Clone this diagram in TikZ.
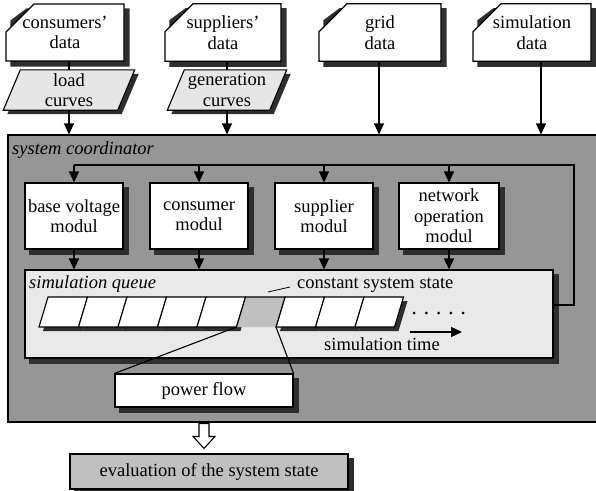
\documentclass[tikz,border=0pt]{standalone}
\usepackage{fontspec}
\setmainfont{Liberation Serif}
\usetikzlibrary{arrows.meta,shapes.misc,calc}
\definecolor{shadowc}{HTML}{2E2E2E}
\definecolor{coordc}{HTML}{969696}
\definecolor{queuec}{HTML}{E9E9E9}
\definecolor{parac}{HTML}{E6E6E6}
\definecolor{cellg}{HTML}{C0C0C0}
\definecolor{evalc}{HTML}{C0C0C0}
\pgfdeclarelayer{back}
\pgfdeclarelayer{shad}
\pgfsetlayers{back,shad,main}
\newcommand\dfont{\fontsize{18.5}{20.5}\selectfont}
\tikzset{
 lw/.style={line width=1.1pt},
 docbox/.style={chamfered rectangle, chamfered rectangle corners=north west,
   chamfered rectangle xsep=16pt, chamfered rectangle ysep=12pt,
   draw, lw, fill=white, minimum height=49pt, inner sep=0pt, align=center, font=\dfont},
 modbox/.style={rectangle, draw, lw, fill=white, minimum height=66pt,
   minimum width=98pt, inner sep=0pt, align=center, font=\dfont},
 plainbox/.style={rectangle, draw, lw, inner sep=0pt, align=center, font=\dfont},
 arr/.style={lw, -{Triangle[width=10pt,length=11pt]}},
 paratext/.style={inner sep=0pt, minimum height=40pt, align=center, font=\dfont},
 itlabel/.style={inner sep=0pt, anchor=west, font=\dfont\itshape},
}
\newcommand\rshadow[1]{\begin{pgfonlayer}{shad}\path[fill=shadowc] ([xshift=5pt,yshift=-5pt]#1.south west) rectangle ([xshift=5pt,yshift=-5pt]#1.north east);\end{pgfonlayer}}
\newcommand\cshadow[1]{\begin{pgfonlayer}{shad}\path (#1.west |- #1.north) coordinate (tmptl) (#1.west |- #1.south) coordinate (tmpbl) (#1.east |- #1.south) coordinate (tmpbr) (#1.east |- #1.north) coordinate (tmptr);
 \path[fill=shadowc] ([xshift=5pt,yshift=-5pt]tmpbl) -- ([xshift=5pt,yshift=-5pt]tmpbr) -- ([xshift=5pt,yshift=-5pt]tmptr) -- ([xshift=21pt,yshift=-5pt]tmptl) -- ([xshift=5pt,yshift=-17pt]tmptl) -- cycle;\end{pgfonlayer}}
\newcommand\drawpara[2]{%
 \path[fill=shadowc] ([xshift=-#2/2+4,yshift=-4pt]#1.south west) -- ([xshift=-#2/2+4,yshift=-4pt]#1.south east) -- ([xshift=#2/2+4,yshift=-4pt]#1.north east) -- ([xshift=#2/2+4,yshift=-4pt]#1.north west) -- cycle;
 \draw[lw,fill=parac] ([xshift=-#2/2]#1.south west) -- ([xshift=-#2/2]#1.south east) -- ([xshift=#2/2]#1.north east) -- ([xshift=#2/2]#1.north west) -- cycle;}
\begin{document}
\begin{tikzpicture}[x=1pt,y=-1pt]
\useasboundingbox (0,0) rectangle (596,490);
% system coordinator background
\begin{pgfonlayer}{back}
\node[draw, lw, fill=coordc, minimum width=592pt, minimum height=287pt, inner sep=0pt] (sc) at (304,278.5) {};
\end{pgfonlayer}
\node[itlabel] (scl) at (12,150) {system coordinator};
% top data boxes
\node[docbox, minimum width=118pt] (cd) at (65,32.5) {consumers'\\data};
\node[docbox, minimum width=116pt] (sd) at (223,32.5) {suppliers'\\data};
\node[docbox, minimum width=122pt] (gd) at (380,32.5) {grid\\data};
\node[docbox, minimum width=118pt] (smd) at (532,32.5) {simulation\\data};
\cshadow{cd}\cshadow{sd}\cshadow{gd}\cshadow{smd}
% parallelograms
\node[paratext, minimum width=114pt] (lc) at (69,90) {};
\node[paratext, minimum width=102pt] (gc) at (227,90) {};
\draw[lw] (lc.north |- cd.south) -- (lc.north);
\draw[lw] (gc.north |- sd.south) -- (gc.north);
\drawpara{lc}{17}
\drawpara{gc}{17}
\node[paratext, minimum width=114pt] at (lc) {load\\curves};
\node[paratext, minimum width=102pt] at (gc) {generation\\curves};
\draw[arr] (lc.south) -- (lc.south |- sc.north);
\draw[arr] (gc.south) -- (gc.south |- sc.north);
\draw[arr] ([xshift=-1pt]gd.south) -- ([xshift=-1pt]gd.south |- sc.north);
\draw[arr] ([xshift=9pt]smd.south) -- ([xshift=9pt]smd.south |- sc.north);
% modules
\node[modbox] (bv) at (74,216) {base voltage\\modul};
\node[modbox] (cm) at (199,216) {consumer\\modul};
\node[modbox] (sm) at (324,216) {supplier\\modul};
\node[modbox, minimum width=100pt] (nm) at (449,216) {network\\operation\\modul};
\rshadow{bv}\rshadow{cm}\rshadow{sm}\rshadow{nm}
% queue
\node[plainbox, fill=queuec, minimum width=528pt, minimum height=88pt] (q) at (289,314) {};
\rshadow{q}
\node[itlabel] (ql) at (29,284) {simulation queue};
% bus
\coordinate (busR) at (574,165);
\draw[lw] ([yshift=9pt]q.east) -| (busR) -- (bv.north |- busR);
\foreach \m in {bv,cm,sm,nm}{
  \draw[arr] (\m.north |- busR) -- (\m.north);
  \draw[arr] (\m.south) -- (\m.south |- q.north);
}
% cells
\foreach \i in {0,1,2,3,4,6,7,8}{
  \pgfmathsetmacro\xa{39+39.5*\i}
  \fill[shadowc] (\xa+4,331) -- (\xa+43.5,331) -- (\xa+52.5,301) -- (\xa+13,301) -- cycle;
}
\foreach \i in {0,1,2,3,4,6,7,8}{
  \pgfmathsetmacro\xa{39+39.5*\i}
  \draw[lw,fill=white] (\xa,327) -- (\xa+39.5,327) -- (\xa+48.5,297) -- (\xa+9,297) -- cycle;
}
\coordinate (gbl) at (236.5,327);
\coordinate (gbr) at (276,327);
\coordinate (gtl) at (245.5,297);
\coordinate (gtr) at (285,297);
\fill[cellg] (gbl) -- (gbr) -- (gtr) -- (gtl) -- cycle;
\draw[lw] (gbl) -- (gtl) -- (gtr) -- (gbr);
% constant system state
\node[inner sep=0pt, anchor=west, font=\dfont] (css) at (297,285) {constant system state};
\coordinate (lead) at (268,292);
\draw[line width=0.8pt] (lead) -- ([xshift=-7pt,yshift=-2pt]css.west);
% dots and time arrow
\foreach \k in {0,...,4}{ \fill ({414+12.3*\k},313) circle (1.5pt); }
\coordinate (ta) at (410,332);
\coordinate (tb) at (462,332);
\draw[arr] (ta) -- (tb);
\node[inner sep=0pt, font=\dfont] (st) at (382,344) {simulation time};
% power flow
\node[plainbox, fill=white, minimum width=178pt, minimum height=33pt] (pf) at (204,390.5) {power flow};
\rshadow{pf}
\draw[lw] (gbl) -- (pf.north west);
\draw[lw] (gbr) -- (pf.north east);
% evaluation
\node[plainbox, fill=evalc, minimum width=278pt, minimum height=35pt] (ev) at (209,471.5) {evaluation of the system state};
\rshadow{ev}
\coordinate (ha) at (pf.south |- sc.south);
\coordinate (tip) at ($(ha |- ev.north)+(0,-5)$);
\draw[lw,fill=white] ($(ha)+(-5,1)$) -- ($(ha)+(5,1)$) -- ($(tip)+(5,-12)$) -- ($(tip)+(11,-12)$) -- (tip) -- ($(tip)+(-11,-12)$) -- ($(tip)+(-5,-12)$) -- cycle;
\end{tikzpicture}
\end{document}
